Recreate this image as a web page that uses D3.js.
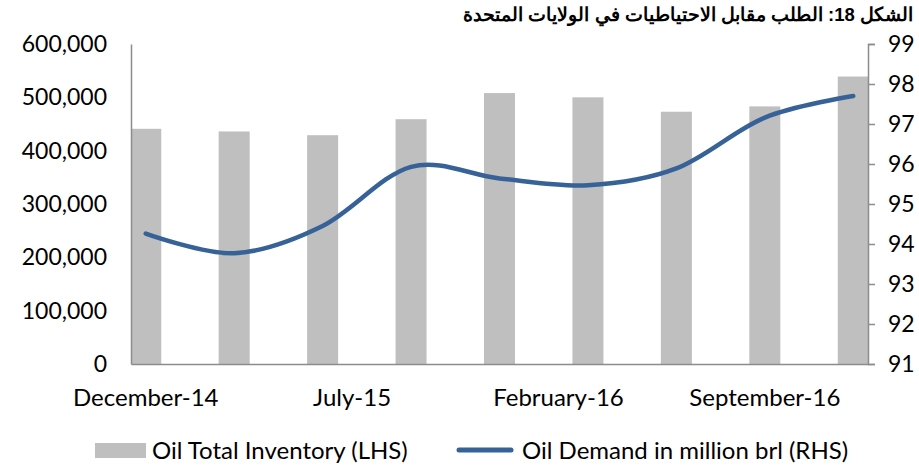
<!DOCTYPE html>
<html>
<head>
<meta charset="utf-8">
<script src="https://cdn.jsdelivr.net/npm/d3@7"></script>
<style>
body { margin:0; background:#fff; }
text { font-family: Lato, "Open Sans", sans-serif; fill:#000; }
</style>
</head>
<body>
<div id="chart"></div>
<script>
// data
var months = ['2014-12','2015-03','2015-06','2015-09','2015-12','2016-03','2016-06','2016-09','2016-12'];
var inventory = [441000, 436000, 429000, 459000, 508000, 500000, 473000, 483000, 539000];
var demand = [94.26, 93.77, 94.45, 95.93, 95.64, 95.47, 95.89, 97.16, 97.70];
var xTickLabels = ['December-14','July-15','February-16','September-16'];
var xTickMonths = ['2014-12','2015-07','2016-02','2016-09'];
var leftTicks = [0,100000,200000,300000,400000,500000,600000];
var rightTicks = [91,92,93,94,95,96,97,98,99];
var title = 'الشكل 18: الطلب مقابل الاحتياطيات في الولايات المتحدة';
var legendLabels = ['Oil Total Inventory (LHS)', 'Oil Demand in million brl (RHS)'];

var svgWidth = 919,
svgHeight = 466;

var margin = { t:44, r:51, b:102, l:131 };
var width = svgWidth - margin.l - margin.r,
height = svgHeight - margin.t - margin.b;

var parse = d3.timeParse('%Y-%m');

var svg = d3.select('#chart')
	.append('svg')
	.attr('width', svgWidth)
	.attr('height', svgHeight);

var chart = svg.append('g')
	.attr('transform', `translate(${margin.l},${margin.t})`);

// monthly slots, Dec-14 .. Dec-16
var allMonths = d3.timeMonth.range(parse('2014-12'), d3.timeMonth.offset(parse('2016-12'), 1));
var xScale = d3.scaleBand()
	.domain(allMonths.map(d => +d))
	.range([0, width]);
var xc = m => xScale(+parse(m)) + xScale.bandwidth() / 2;

var yLeft = d3.scaleLinear().domain([0, 600000]).range([height, 0]);
var yRight = d3.scaleLinear().domain([91, 99]).range([height, 0]);

var barW = 31;

chart.selectAll('rect.bar')
	.data(inventory)
	.enter()
	.append('rect')
	.attr('class', 'bar')
	.attr('x', (d, i) => Math.max(0, xc(months[i]) - barW / 2))
	.attr('width', (d, i) => xc(months[i]) - barW / 2 < 0 ? barW / 2 + xc(months[i]) : barW)
	.attr('y', d => yLeft(d))
	.attr('height', d => height - yLeft(d))
	.attr('fill', '#bfbfbf');

// left axis (no ticks)
var leftAxis = chart.append('g')
	.call(d3.axisLeft(yLeft).tickValues(leftTicks).tickSize(0).tickPadding(24).tickFormat(d3.format(',')));
leftAxis.select('.domain').attr('stroke', '#8c8c8c').attr('stroke-width', 1.5);
leftAxis.selectAll('text').style('font-size', '23px');

// bottom axis
var bottomAxis = chart.append('g')
	.attr('transform', `translate(0,${height})`)
	.call(d3.axisBottom(xScale).tickValues(xTickMonths.map(m => +parse(m))).tickSize(0).tickPadding(25)
		.tickFormat((d, i) => xTickLabels[i]));
bottomAxis.select('.domain').attr('stroke', '#8c8c8c').attr('stroke-width', 1.5);
bottomAxis.selectAll('text').style('font-size', '24px');

// right axis
var rightAxis = chart.append('g')
	.attr('transform', `translate(${width},0)`)
	.call(d3.axisRight(yRight).tickValues(rightTicks).tickSize(7).tickPadding(13));
rightAxis.select('.domain').attr('stroke', '#8c8c8c').attr('stroke-width', 1.5);
rightAxis.selectAll('line').attr('stroke', '#8c8c8c').attr('stroke-width', 1.5);
rightAxis.selectAll('text').style('font-size', '23px');

// demand line
var line = d3.line()
	.x((d, i) => xc(months[i]))
	.y(d => yRight(d))
	.curve(d3.curveCardinal);

chart.append('path')
	.datum(demand)
	.attr('d', line)
	.attr('fill', 'none')
	.attr('stroke', '#376297')
	.attr('stroke-width', 4.5)
	.attr('stroke-linecap', 'round');

// title
svg.append('text')
	.attr('x', 913)
	.attr('y', 21)
	.attr('text-anchor', 'start')
	.attr('direction', 'rtl')
	.style('font-family', '"Liberation Sans", Arial, sans-serif')
	.style('font-weight', 'bold')
	.style('font-size', '18.5px')
	.text(title);

// legend
var lg = svg.append('g');
lg.append('rect').attr('x', 95).attr('y', 443).attr('width', 51).attr('height', 15).attr('fill', '#bfbfbf');
lg.append('text').attr('x', 152).attr('y', 459).style('font-size', '24px').text(legendLabels[0]);
lg.append('line').attr('x1', 459).attr('x2', 511).attr('y1', 450).attr('y2', 450)
	.attr('stroke', '#376297').attr('stroke-width', 5).attr('stroke-linecap', 'round');
lg.append('text').attr('x', 522).attr('y', 459).style('font-size', '24px').text(legendLabels[1]);
</script>
</body>
</html>
